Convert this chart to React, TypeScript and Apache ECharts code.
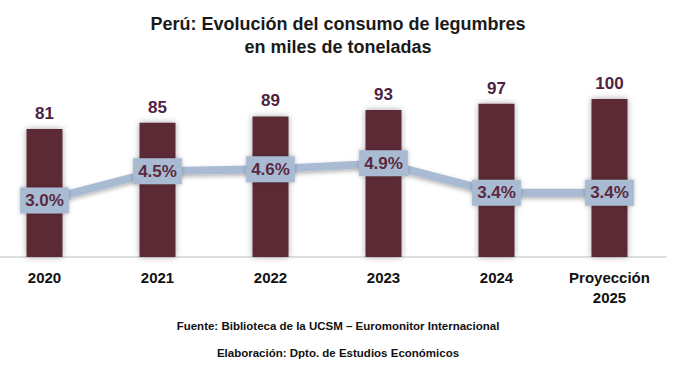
import React, { useEffect, useRef } from "react";
import * as echarts from "echarts";

const categories = ["2020", "2021", "2022", "2023", "2024", "Proyección\n2025"];
const consumo = [81, 85, 89, 93, 97, 100];
const crecimiento = [3.0, 4.5, 4.6, 4.9, 3.4, 3.4];
const titleLines = "Perú: Evolución del consumo de legumbres\nen miles de toneladas";
const fuente = "Fuente: Biblioteca de la UCSM – Euromonitor Internacional";
const elaboracion = "Elaboración: Dpto. de Estudios Económicos";

const FONT = "'Liberation Sans', Arial, sans-serif";

export default function App() {
  const ref = useRef<HTMLDivElement>(null);
  useEffect(() => {
    document.body.style.margin = "0";
    document.body.style.overflow = "hidden";
    const chart = echarts.init(ref.current!, null, { renderer: "svg" });
    chart.setOption({
      animation: false,
      backgroundColor: "#ffffff",
      title: {
        text: titleLines,
        left: "center",
        top: 7,
        textStyle: {
          fontFamily: FONT,
          fontWeight: "bold",
          fontSize: 18,
          lineHeight: 23,
          color: "#1a1a1a",
        },
      },
      graphic: [
        {
          type: "text",
          left: "center",
          top: 320,
          style: { text: fuente, font: `bold 11.5px ${FONT}`, fill: "#111" },
        },
        {
          type: "text",
          left: "center",
          top: 347,
          style: { text: elaboracion, font: `bold 11.5px ${FONT}`, fill: "#111" },
        },
      ],
      grid: { left: 0, right: 22, top: 99, bottom: 114, containLabel: false },
      xAxis: {
        type: "category",
        data: categories,
        boundaryGap: true,
        axisLine: { show: true, lineStyle: { color: "#d4d4d4", width: 1.5 } },
        axisTick: { show: false },
        axisLabel: {
          fontFamily: FONT,
          fontWeight: "bold",
          fontSize: 15,
          lineHeight: 20,
          color: "#111",
          margin: 10,
          interval: 0,
        },
      },
      yAxis: [
        { type: "value", min: 0, max: 100, show: false, splitLine: { show: false } },
        { type: "value", min: 0.1, max: 8.2, show: false, splitLine: { show: false } },
      ],
      series: [
        {
          type: "bar",
          data: consumo,
          barWidth: 36,
          itemStyle: {
            color: "#5b2a35",
            shadowBlur: 6,
            shadowColor: "rgba(0,0,0,0.35)",
          },
          label: {
            show: true,
            position: "top",
            distance: 7,
            fontFamily: FONT,
            fontWeight: "bold",
            fontSize: 17,
            color: "#4e2342",
          },
          z: 2,
        },
        {
          type: "line",
          yAxisIndex: 1,
          data: crecimiento,
          symbol: "circle",
          symbolSize: 1,
          showSymbol: true,
          itemStyle: { color: "#a9bbd3" },
          lineStyle: {
            color: "#a9bbd3",
            width: 8,
            shadowBlur: 4,
            shadowColor: "rgba(0,0,0,0.3)",
            shadowOffsetY: 2,
          },
          label: {
            show: true,
            position: "inside",
            formatter: (p: any) => Number(p.value).toFixed(1) + "%",
            fontFamily: FONT,
            fontWeight: "bold",
            fontSize: 17,
            color: "#5a2a40",
            backgroundColor: "#a9bbd3",
            padding: [5, 5, 4, 5],
            shadowBlur: 4,
            shadowColor: "rgba(0,0,0,0.25)",
          },
          z: 3,
        },
      ],
    });
    return () => chart.dispose();
  }, []);
  return (
    <div
      ref={ref}
      style={{ position: "absolute", left: -12.5, top: 0, width: 700, height: 371 }}
    />
  );
}
